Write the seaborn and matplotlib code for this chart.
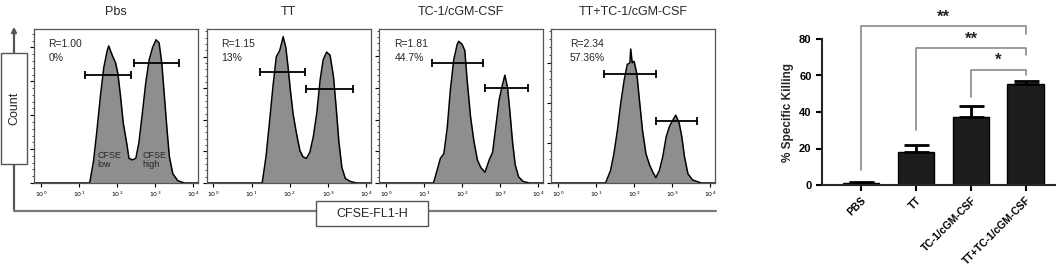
import numpy as np
import pandas as pd
import matplotlib
matplotlib.use("Agg")
import matplotlib.pyplot as plt
from matplotlib.patches import Rectangle
from matplotlib.ticker import MultipleLocator, FixedLocator
import seaborn as sns

sns.set_style("ticks")
plt.rcParams['font.family'] = ['Liberation Sans', 'DejaVu Sans']

# ---- flow histograms (log10 channel, % of panel height) ----
titles = ["Pbs", "TT", "TC-1/cGM-CSF", "TT+TC-1/cGM-CSF"]
r_text = ["R=1.00", "R=1.15", "R=1.81", "R=2.34"]
pct_text = ["0%", "13%", "44.7%", "57.36%"]

pbs_log = [-0.2, 1.28, 1.38, 1.47, 1.56, 1.65, 1.74, 1.78, 1.87, 1.96, 2.02, 2.09, 2.16, 2.25, 2.31,
           2.40, 2.49, 2.57, 2.66, 2.75, 2.84, 2.93, 3.02, 3.10, 3.17, 3.24, 3.31, 3.37, 3.46, 3.59, 3.76, 4.2]
pbs_cnt = [0, 0, 14, 34, 56, 75, 86, 89, 83, 78, 71, 56, 39, 26, 16,
           15, 16, 26, 45, 65, 80, 88, 93, 91, 78, 56, 34, 17, 6, 1.5, 0, 0]

tt_log = [-0.2, 1.28, 1.38, 1.47, 1.56, 1.65, 1.74, 1.83, 1.90, 1.96, 2.02, 2.09, 2.18, 2.27, 2.35,
          2.44, 2.53, 2.62, 2.71, 2.80, 2.88, 2.97, 3.06, 3.15, 3.22, 3.29, 3.37, 3.46, 3.59, 3.76, 4.2]
tt_cnt = [0, 0, 17, 39, 62, 82, 86, 95, 88, 75, 60, 45, 32, 21, 17,
          16, 20, 30, 45, 67, 80, 85, 83, 69, 49, 27, 10, 3, 1, 0, 0]

tc_log = [-0.2, 1.25, 1.34, 1.43, 1.52, 1.61, 1.69, 1.78, 1.87, 1.91, 2.00, 2.07, 2.13, 2.22, 2.31,
          2.40, 2.49, 2.60, 2.71, 2.80, 2.88, 2.97, 3.04, 3.12, 3.19, 3.25, 3.32, 3.39, 3.48, 3.60, 3.76, 4.2]
tc_cnt = [0, 0, 8, 16, 19, 36, 60, 80, 90, 92, 90, 86, 67, 43, 27,
          15, 10, 7, 15, 20, 36, 54, 62, 70, 62, 47, 27, 12, 4, 1, 0, 0]

tttc_log = [-0.2, 1.25, 1.38, 1.47, 1.56, 1.65, 1.74, 1.82, 1.89, 1.91, 1.95, 2.00, 2.07, 2.13, 2.22,
            2.31, 2.40, 2.49, 2.57, 2.66, 2.75, 2.84, 2.93, 3.02, 3.09, 3.18, 3.25, 3.32, 3.41, 3.53, 3.76, 4.2]
tttc_cnt = [0, 0, 8, 19, 34, 52, 67, 77, 78, 87, 78, 79, 71, 56, 34,
            19, 12, 7, 3.5, 8, 17, 30, 37, 41, 44, 39, 30, 17, 6, 2, 0, 0]

hist_logs = [pbs_log, tt_log, tc_log, tttc_log]
hist_cnts = [pbs_cnt, tt_cnt, tc_cnt, tttc_cnt]

# gates: (log start, log end, height)
gate_low = [(1.16, 2.37, 70), (1.21, 2.40, 72), (1.21, 2.55, 78), (1.21, 2.56, 71)]
gate_high = [(2.44, 3.63, 78), (2.42, 3.65, 61), (2.60, 3.72, 62), (2.57, 3.65, 40)]

# ---- bar chart ----
groups = ["PBS", "TT", "TC-1/cGM-CSF", "TT+TC-1/cGM-CSF"]
killing = [1.0, 18.0, 37.5, 55.5]
killing_err = [0.4, 4.0, 6.0, 1.6]
# brackets: (left bar, right bar, top, left leg end, right leg end, stars)
brackets = [(0, 3, 87, 8, 83, "**"), (1, 3, 75, 30, 71, "**"), (2, 3, 63, 48, 60, "*")]

W, H = 1061, 280
fig = plt.figure(figsize=(W / 100, H / 100), dpi=100)

# overlay for the frame arrows / boxes, in pixel coordinates
ov = fig.add_axes([0, 0, 1, 1], zorder=0)
ov.set_xlim(0, W)
ov.set_ylim(H, 0)
ov.axis("off")
gray = "#7a7a7a"
ov.plot([14, 716], [211, 211], color=gray, lw=1.6)
ov.annotate("", xy=(14, 24), xytext=(14, 212),
            arrowprops=dict(arrowstyle="-|>", color="#555555", lw=1.6, mutation_scale=7))
ov.add_patch(Rectangle((1, 53), 26, 111, facecolor="white", edgecolor="#555555", lw=1, zorder=3))
ov.text(14, 108.5, "Count", rotation=90, ha="center", va="center", fontsize=9, zorder=4)
ov.add_patch(Rectangle((316, 201), 112, 25, facecolor="white", edgecolor="#555555", lw=1, zorder=3))
ov.text(372, 214, "CFSE-FL1-H", ha="center", va="center", fontsize=9, zorder=4)

panel_left = [34, 206.5, 379, 551]
ytick_step = [22, 20.5, 20.6, 26]
r_x = [0.087, 0.087, 0.093, 0.114]
for i in range(4):
    ax = fig.add_axes([panel_left[i] / W, 1 - 183 / H, 164 / W, 154 / H], zorder=2)
    xs = [10 ** v for v in hist_logs[i]]
    df = pd.DataFrame({"ch": xs, "cnt": hist_cnts[i]})
    ax.fill_between(df["ch"], 0, df["cnt"], color="#8e8e8e", lw=0)
    sns.lineplot(data=df, x="ch", y="cnt", ax=ax, color="black", lw=1.1, sort=False)
    ax.set_xscale("log")
    ax.set_xlim(10 ** -0.18, 10 ** 4.12)
    ax.set_ylim(0, 100)
    ax.set_xlabel("")
    ax.set_ylabel("")
    ax.xaxis.set_major_locator(FixedLocator([1, 10, 100, 1000, 10000]))
    ax.set_xticklabels([r"$10^{%d}$" % k for k in range(5)], fontsize=4.5)
    ax.yaxis.set_major_locator(MultipleLocator(ytick_step[i]))
    ax.yaxis.set_minor_locator(MultipleLocator(ytick_step[i] / 5))
    ax.set_yticklabels([])
    ax.tick_params(axis="both", which="major", length=3, width=0.8, direction="out", pad=1.5, colors="black")
    ax.tick_params(axis="both", which="minor", length=1.5, width=0.6, direction="out")
    for s in ax.spines.values():
        s.set_color("#555555")
        s.set_linewidth(0.9)
    for g in (gate_low[i], gate_high[i]):
        ax.plot([10 ** g[0], 10 ** g[1]], [g[2], g[2]], color="black", lw=1.3,
                marker="|", ms=6, mew=1.3)
    ax.text(r_x[i], 0.90, r_text[i], transform=ax.transAxes, fontsize=7.5, va="center")
    ax.text(r_x[i], 0.81, pct_text[i], transform=ax.transAxes, fontsize=7.5, va="center")
    ax.set_title(titles[i], fontsize=9, pad=10)
    if i == 0:
        ax.text(0.388, 0.205, "CFSE\nlow", transform=ax.transAxes, fontsize=6.5, va="top", linespacing=1.0)
        ax.text(0.663, 0.205, "CFSE\nhigh", transform=ax.transAxes, fontsize=6.5, va="top", linespacing=1.0)

# bar panel
bx = fig.add_axes([822 / W, 1 - 185 / H, (1055 - 822) / W, 146 / H], zorder=2)
bdf = pd.DataFrame({"group": groups, "val": killing})
sns.barplot(data=bdf, x="group", y="val", ax=bx, color="#1c1c1c", edgecolor="black",
            width=0.67, saturation=1)
bx.errorbar(range(4), killing, yerr=[[0] * 4, killing_err], fmt="none", ecolor="black",
            elinewidth=2, capsize=9, capthick=2, zorder=1)
bx.set_xlim(-0.71, 3.53)
bx.set_ylim(0, 80)
bx.set_yticks([0, 20, 40, 60, 80])
bx.set_xlabel("")
bx.set_ylabel("% Specific Killing", fontsize=8.5, fontweight="bold", labelpad=4)
bx.set_xticks(range(4))
bx.set_xticklabels(groups, rotation=45, ha="right", rotation_mode="anchor", fontsize=7.5, fontweight="bold")
for lab in bx.get_yticklabels():
    lab.set_fontweight("bold")
    lab.set_fontsize(8)
bx.tick_params(axis="both", length=4, width=1.5, colors="black")
sns.despine(ax=bx)
bx.spines["left"].set_linewidth(1.5)
bx.spines["bottom"].set_linewidth(1.5)
for (a, b, top, la, rb, st) in brackets:
    bx.plot([a, a, b, b], [la, top, top, rb], color="#8a8a8a", lw=1.2, clip_on=False)
    bx.text((a + b) / 2, top + 1.0, st, ha="center", va="bottom", fontsize=12, fontweight="bold",
            clip_on=False)

fig.savefig("out.png", dpi=100)
